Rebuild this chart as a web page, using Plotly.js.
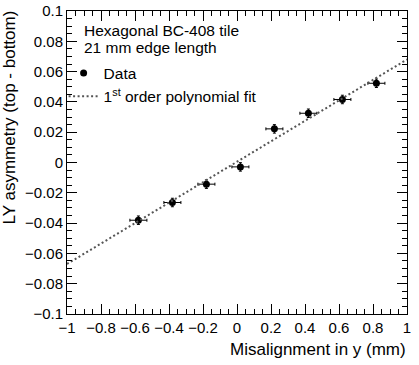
<!DOCTYPE html>
<html>
<head>
<meta charset="utf-8">
<script src="https://cdn.plot.ly/plotly-3.0.1.min.js"></script>
<style>body{margin:0;padding:0;background:#fff}#chart{width:419px;height:365px}</style>
</head>
<body>
<div id="chart"></div>
<script>
// Measured data (misalignment in y [mm], LY asymmetry)
var misalignment = [-0.58, -0.38, -0.18, 0.02, 0.22, 0.42, 0.62, 0.82];
var asymmetry = [-0.0381, -0.0264, -0.0143, -0.0029, 0.0222, 0.0325, 0.0416, 0.0523];
var xErr = [0.05, 0.05, 0.05, 0.05, 0.05, 0.05, 0.05, 0.05];
var yErr = [0.0028, 0.0028, 0.0028, 0.0028, 0.0028, 0.0028, 0.0028, 0.0028];
// 1st order polynomial fit, read at the plot edges
var fitX = [-1, 1];
var fitY = [-0.067, 0.068];

var FONT = 'Liberation Sans, Arial, Helvetica, sans-serif';

var traces = [
  {
    x: misalignment, y: asymmetry, type: 'scatter', mode: 'markers', name: 'Data',
    marker: {color: '#000', size: 7, symbol: 'circle'},
    error_x: {type: 'data', array: xErr, visible: true, color: '#000', thickness: 1, width: 1.5},
    error_y: {type: 'data', array: yErr, visible: true, color: '#000', thickness: 1, width: 1.5}
  },
  {
    x: fitX, y: fitY, type: 'scatter', mode: 'lines', name: '1<sup>st</sup> order polynomial fit',
    line: {color: '#555', width: 2, dash: '2px,2.5px'}
  }
];

var axisCommon = {
  showgrid: false, zeroline: false, showline: true, linecolor: '#000', linewidth: 1,
  mirror: 'allticks', ticks: 'inside', ticklen: 10, tickwidth: 1, tickcolor: '#000',
  tickfont: {family: FONT, size: 15, color: '#000'}
};

var layout = {
  width: 419, height: 365,
  margin: {l: 67, r: 12, t: 11, b: 51},
  paper_bgcolor: '#fff', plot_bgcolor: '#fff',
  font: {family: FONT, color: '#000'},
  showlegend: true,
  legend: {
    x: -0.01, xanchor: 'left', y: 0.85, yanchor: 'top',
    bgcolor: 'rgba(0,0,0,0)', borderwidth: 0,
    font: {family: FONT, size: 15.5, color: '#000'},
    itemwidth: 30, tracegroupgap: 0
  },
  xaxis: Object.assign({}, axisCommon, {
    range: [-1, 1], tick0: -1, dtick: 0.2,
    minor: {dtick: 0.05, ticks: 'inside', ticklen: 5, tickcolor: '#000', tickwidth: 1}
  }),
  yaxis: Object.assign({}, axisCommon, {
    range: [-0.1, 0.1], tick0: -0.1, dtick: 0.02,
    minor: {dtick: 0.005, ticks: 'inside', ticklen: 5, tickcolor: '#000', tickwidth: 1}
  }),
  annotations: [
    {text: 'Misalignment in y (mm)', xref: 'paper', yref: 'paper', x: 1.004, y: -0.116,
     xanchor: 'right', yanchor: 'middle', showarrow: false, font: {family: FONT, size: 17, color: '#000'}},
    {text: 'LY asymmetry (top - bottom)', xref: 'paper', yref: 'paper', x: -0.168, y: 1.008,
     xanchor: 'center', yanchor: 'top', textangle: -90, showarrow: false, font: {family: FONT, size: 17, color: '#000'}},
    {text: 'Hexagonal BC-408 tile', xref: 'paper', yref: 'paper', x: 0.043, y: 0.935,
     xanchor: 'left', yanchor: 'middle', showarrow: false, font: {family: FONT, size: 15.5, color: '#000'}},
    {text: '21 mm edge length', xref: 'paper', yref: 'paper', x: 0.043, y: 0.878,
     xanchor: 'left', yanchor: 'middle', showarrow: false, font: {family: FONT, size: 15.5, color: '#000'}}
  ]
};

Plotly.newPlot('chart', traces, layout, {displayModeBar: false, staticPlot: true});
</script>
</body>
</html>
